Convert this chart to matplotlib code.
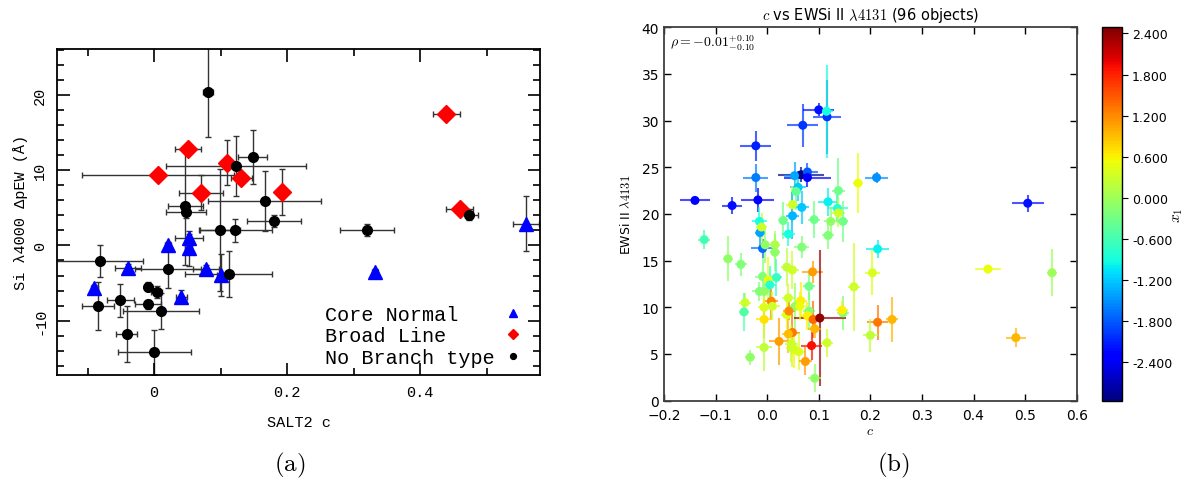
import numpy as np
import matplotlib
matplotlib.use("Agg")
import matplotlib.pyplot as plt
from matplotlib.ticker import MultipleLocator, FormatStrFormatter
from matplotlib.colors import Normalize

plt.rcParams['mathtext.fontset'] = 'cm'

# ---------------- Panel (a) data ----------------
cn_c = [-0.090, -0.039, 0.021, 0.052, 0.052, 0.041, 0.078, 0.100, 0.332, 0.559]
cn_ew = [-5.7, -3.0, 0.0, 1.0, -0.4, -6.8, -3.1, -3.9, -3.55, 2.9]
cn_ce = [0.005, 0.02, 0.005, 0.021, 0.005, 0.008, 0.019, 0.005, 0.005, 0.02]
cn_ewe = [0.5, 0.5, 0.5, 0.5, 2.3, 0.9, 0.5, 2.8, 0.4, 3.6]

bl_c = [0.0055, 0.051, 0.071, 0.110, 0.131, 0.192, 0.439, 0.459]
bl_ew = [9.4, 12.8, 7.0, 11.0, 8.9, 7.1, 17.4, 4.85]
bl_ce = [0.114, 0.02, 0.033, 0.005, 0.016, 0.005, 0.02, 0.02]
bl_ewe = [0.3, 0.3, 2.3, 3.0, 0.5, 3.1, 0.3, 0.3]

nb_c = [0.081, 0.123, 0.148, 0.047, 0.048, 0.166, 0.180, 0.099, 0.122, 0.473,
        0.320, -0.082, -0.085, -0.051, -0.041, -0.0085, 0.004, -0.009, 0.010,
        0.000, 0.021, 0.112]
nb_ew = [20.4, 10.5, 11.7, 5.2, 4.5, 5.9, 3.2, 2.1, 2.0, 4.0,
         2.1, -2.1, -8.0, -7.3, -11.8, -5.5, -6.2, -7.8, -8.7,
         -14.2, -3.2, -3.8]
nb_ce = [0.008, 0.105, 0.022, 0.026, 0.03, 0.085, 0.04, 0.03, 0.055, 0.013,
         0.04, 0.065, 0.024, 0.02, 0.016, 0.005, 0.008, 0.019, 0.057,
         0.055, 0.05, 0.065]
nb_ewe = [6.0, 4.0, 3.6, 7.8, 0.8, 4.0, 0.8, 8.1, 1.5, 0.6,
          0.8, 2.1, 3.2, 2.2, 3.7, 0.6, 0.8, 0.6, 2.4,
          3.0, 2.4, 3.0]

legend_labels = ["Core Normal", "Broad Line", "No Branch type"]

# ---------------- Panel (b) data ----------------
c_vals = [-0.140, -0.068, -0.022, -0.022, -0.018, 0.069, 0.100, 0.116, 0.115, 0.066,
          0.053, 0.078, 0.078, 0.060, 0.056, 0.067, 0.049, 0.049, 0.118, 0.138,
          0.136, 0.176, 0.138, 0.212, 0.505, 0.214, 0.428, 0.552, 0.204, 0.168,
          0.214, 0.242, 0.200, 0.482, 0.147, 0.147, 0.145, -0.122, -0.076, -0.051,
          -0.043, -0.045, -0.033, -0.015, -0.014, -0.009, -0.011, -0.004, 0.015, 0.015,
          0.031, 0.041, 0.067, 0.038, 0.049, -0.009, 0.002, 0.005, 0.018, -0.015,
          -0.006, 0.008, -0.006, 0.010, -0.006, 0.038, 0.041, 0.054, 0.065, 0.042,
          0.081, 0.088, 0.081, 0.078, 0.089, 0.102, 0.092, 0.086, 0.049, 0.041,
          0.023, 0.047, -0.006, 0.052, 0.061, 0.074, 0.092, 0.116, 0.091, 0.123,
          0.118, 0.063, 0.049]
ew_vals = [21.45, 20.9, 27.3, 23.9, 21.5, 29.5, 31.15, 30.4, 31.0, 24.2,
           24.1, 24.5, 23.9, 22.85, 22.4, 20.7, 21.0, 19.8, 21.3, 22.5,
           20.6, 23.3, 20.1, 23.9, 21.15, 16.25, 14.1, 13.7, 13.7, 12.2,
           8.4, 8.7, 7.0, 6.75, 9.4, 19.2, 9.7, 17.25, 15.2, 14.6,
           10.5, 9.5, 4.65, 19.2, 18.0, 16.3, 18.6, 16.7, 16.7, 15.9,
           19.3, 17.85, 16.45, 14.3, 14.0, 13.3, 12.9, 12.4, 13.2, 11.7,
           11.7, 10.65, 10.0, 10.1, 8.7, 9.2, 11.0, 10.1, 10.7, 9.6,
           12.25, 13.8, 9.6, 9.1, 8.7, 8.85, 7.7, 5.9, 7.3, 7.15,
           6.35, 6.1, 5.7, 5.5, 5.25, 4.2, 2.4, 6.2, 19.4, 19.2,
           17.7, 10.1, 5.6]
c_errs = [0.029, 0.02, 0.03, 0.024, 0.032, 0.03, 0.03, 0.027, 0.012, 0.045,
          0.02, 0.02, 0.045, 0.015, 0.01, 0.015, 0.012, 0.012, 0.02, 0.012,
          0.02, 0.01, 0.012, 0.023, 0.031, 0.023, 0.026, 0.01, 0.015, 0.012,
          0.02, 0.012, 0.015, 0.02, 0.012, 0.01, 0.012, 0.012, 0.01, 0.012,
          0.012, 0.01, 0.01, 0.015, 0.01, 0.022, 0.01, 0.01, 0.01, 0.01,
          0.01, 0.012, 0.015, 0.012, 0.012, 0.015, 0.012, 0.012, 0.01, 0.015,
          0.015, 0.012, 0.012, 0.015, 0.015, 0.012, 0.012, 0.012, 0.012, 0.012,
          0.012, 0.02, 0.012, 0.015, 0.012, 0.05, 0.012, 0.02, 0.015, 0.012,
          0.02, 0.012, 0.015, 0.012, 0.012, 0.012, 0.012, 0.012, 0.012, 0.012,
          0.012, 0.012, 0.012]
ew_errs = [0.4, 0.9, 1.6, 1.5, 1.3, 2.3, 0.7, 4.0, 5.0, 0.8,
           1.5, 1.0, 1.0, 1.5, 2.0, 1.8, 2.0, 2.5, 1.5, 3.5,
           1.5, 3.2, 1.5, 0.6, 0.9, 1.0, 0.3, 2.5, 2.4, 4.7,
           1.9, 2.4, 1.8, 1.0, 1.8, 2.2, 1.0, 1.0, 2.4, 1.2,
           1.0, 2.0, 0.8, 1.5, 1.5, 1.0, 1.5, 2.0, 1.5, 2.0,
           2.0, 1.3, 1.2, 2.0, 2.0, 2.0, 2.5, 2.0, 2.0, 1.0,
           1.5, 2.0, 2.0, 1.5, 2.0, 1.5, 1.5, 2.5, 2.0, 1.0,
           1.5, 1.2, 2.0, 1.5, 2.0, 7.3, 1.0, 1.5, 2.0, 2.0,
           2.5, 2.0, 2.5, 2.0, 2.0, 1.5, 1.5, 1.5, 2.0, 1.5,
           1.5, 1.5, 2.0]
x1_vals = [-2.3, -2.2, -2.1, -1.6, -2.3, -2.0, -2.2, -2.0, -0.9, -2.9,
           -1.4, -1.8, -2.3, -1.2, -0.4, -1.2, 0.3, -1.3, -1.0, -0.3,
           -0.8, 0.5, 0.3, -1.5, -2.2, -1.0, 0.5, 0.0, 0.4, 0.3,
           1.3, 0.95, 0.2, 0.95, -0.2, -0.3, 0.6, -0.6, -0.1, -0.2,
           0.3, -0.5, -0.1, -0.9, -1.4, -1.7, 0.3, -0.1, 0.1, -0.1,
           -0.3, -0.9, -0.2, 0.2, 0.3, -0.2, 0.5, -0.8, -0.7, -0.2,
           -0.1, 1.2, 0.4, 0.3, 0.7, 0.4, 0.3, -0.1, 0.6, 1.2,
           -0.3, 1.1, -0.2, 0.6, 1.4, 2.4, 0.95, 1.9, 1.3, 0.9,
           1.1, 0.3, 0.2, 0.6, 0.4, 1.1, -0.1, 0.3, -0.3, -0.1,
           -0.2, 0.5, 0.3]
cbar_ticks = [-2.4, -1.8, -1.2, -0.6, 0.0, 0.6, 1.2, 1.8, 2.4]

# ---------------- Figure ----------------
fig = plt.figure(figsize=(11.87, 4.85), dpi=100)

# Panel (a)
mono = 'Liberation Mono'
axa = fig.add_axes([0.048, 0.225, 0.407, 0.672])
eb_kw = dict(fmt='none', ecolor='0.2', elinewidth=1.0, capsize=2, capthick=1.0, zorder=1)
axa.errorbar(nb_c, nb_ew, xerr=nb_ce, yerr=nb_ewe, **eb_kw)
axa.errorbar(bl_c, bl_ew, xerr=bl_ce, yerr=bl_ewe, **eb_kw)
axa.errorbar(cn_c, cn_ew, xerr=cn_ce, yerr=cn_ewe, **eb_kw)
axa.plot(cn_c, cn_ew, linestyle='none', marker='^', color='blue', ms=10, zorder=3,
         label=legend_labels[0].ljust(14))
axa.plot(bl_c, bl_ew, linestyle='none', marker='D', color='red', ms=9, zorder=3,
         label=legend_labels[1].ljust(14))
axa.plot(nb_c, nb_ew, linestyle='none', marker='o', color='black', ms=7, zorder=3,
         label=legend_labels[2].ljust(14))
axa.set_xlim(-0.146, 0.58)
axa.set_ylim(-17.2, 26.1)
axa.xaxis.set_major_locator(MultipleLocator(0.2))
axa.xaxis.set_minor_locator(MultipleLocator(0.1))
axa.yaxis.set_major_locator(MultipleLocator(10))
axa.yaxis.set_minor_locator(MultipleLocator(2))
axa.xaxis.set_major_formatter(FormatStrFormatter('%g'))
axa.yaxis.set_major_formatter(FormatStrFormatter('%g'))
axa.tick_params(which='both', direction='in', top=True, right=True, width=1.2)
axa.tick_params(which='major', length=9, labelsize=11, pad=7)
axa.tick_params(which='minor', length=5)
for lab in axa.get_xticklabels() + axa.get_yticklabels():
    lab.set_family(mono)
for lab in axa.get_yticklabels():
    lab.set_rotation(90)
    lab.set_va('center')
for sp in axa.spines.values():
    sp.set_linewidth(1.3)
axa.set_xlabel('SALT2 c', family=mono, fontsize=11, labelpad=12)
axa.set_ylabel('Si λ4000 ΔpEW (Å)', family=mono, fontsize=11, labelpad=4)
leg = axa.legend(loc='lower right', bbox_to_anchor=(0.965, 0.025), frameon=False,
                 markerfirst=False, prop={'family': mono, 'size': 14.5},
                 handlelength=1.0, handletextpad=0.4, markerscale=0.6,
                 labelspacing=0.12, borderaxespad=0, borderpad=0)

# Panel (b)
cmap = plt.get_cmap('jet')
norm = Normalize(vmin=-2.96, vmax=2.49)
axb = fig.add_axes([0.5594, 0.1718, 0.3477, 0.770])
for ci, ei, cei, eei, xi in zip(c_vals, ew_vals, c_errs, ew_errs, x1_vals):
    axb.errorbar(ci, ei, xerr=cei, yerr=eei, fmt='none', ecolor=cmap(norm(xi)),
                 elinewidth=1.5, alpha=0.7, capsize=0, zorder=1)
sc = axb.scatter(c_vals, ew_vals, c=x1_vals, cmap=cmap, norm=norm, s=42,
                 edgecolors='none', zorder=2)
axb.set_xlim(-0.2, 0.6)
axb.set_ylim(0, 40)
axb.xaxis.set_major_locator(MultipleLocator(0.1))
axb.yaxis.set_major_locator(MultipleLocator(5))
axb.tick_params(direction='in', top=True, right=True, length=5, labelsize=10, width=1.0)
axb.tick_params(axis='x', pad=5)
for sp in axb.spines.values():
    sp.set_linewidth(1.3)
    sp.set_color('0.25')
axb.set_title(r'$c$ vs EWSi II $\lambda4131$ (96 objects)', fontsize=10.5, pad=6)
axb.set_xlabel(r'$c$', fontsize=10, labelpad=1)
axb.set_ylabel(r'EWSi II $\lambda4131$', fontsize=9, labelpad=6)
axb.text(0.015, 0.985, r'$\rho=-0.01^{+0.10}_{-0.10}$', transform=axb.transAxes,
         ha='left', va='top', fontsize=10)

cax = fig.add_axes([0.9284, 0.1718, 0.0166, 0.770])
cb = fig.colorbar(sc, cax=cax, ticks=cbar_ticks, format=FormatStrFormatter('%.3f'))
cb.ax.tick_params(labelsize=9, length=4)
cb.set_label(r'$x_1$', fontsize=11)
cb.ax.yaxis.set_label_coords(3.45, 0.5)
cb.outline.set_linewidth(1.0)

fig.text(0.2443, 0.04, r'$\mathrm{(a)}$', ha='center', va='center', fontsize=18)
fig.text(0.7523, 0.04, r'$\mathrm{(b)}$', ha='center', va='center', fontsize=18)

fig.savefig('out.png', dpi=100)
